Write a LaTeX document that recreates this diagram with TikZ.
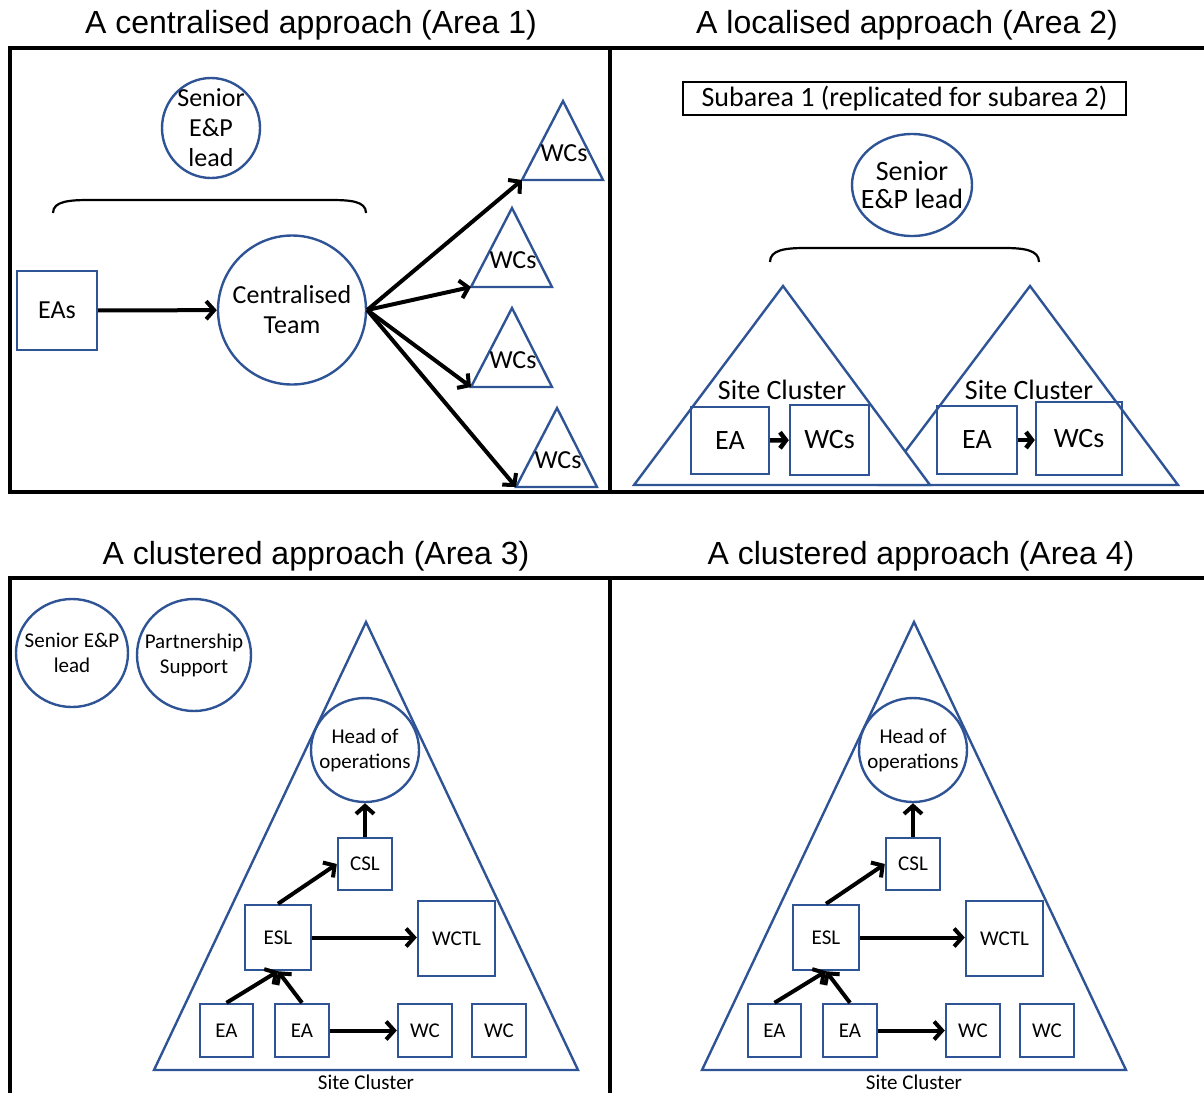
\documentclass[tikz,border=0pt]{standalone}
\usepackage{fontspec}
\setmainfont{Carlito}
\newfontfamily\titlefont{Liberation Sans}
\usetikzlibrary{positioning,shapes.geometric,arrows.meta}
\definecolor{boxblue}{RGB}{47,84,150}

\begin{document}
\begin{tikzpicture}[x=1pt,y=-1pt,
  font=\fontsize{26}{30}\selectfont,
  blueline/.style={draw=boxblue, line width=2.4pt},
  circ/.style={blueline, ellipse, inner sep=0pt},
  ctext/.style={align=center, inner sep=0pt},
  sq/.style={blueline, rectangle, inner sep=0pt},
  arr/.style={line width=4pt, -{Straight Barb[length=8pt,width=18pt]}},
  frame/.style={line width=3.6pt},
  title/.style={font=\titlefont\fontsize{32}{34}\selectfont},
  big/.style={font=\fontsize{28}{28}\selectfont},
  small/.style={font=\fontsize{21}{25}\selectfont}]
\useasboundingbox (0,0) rectangle (1204,1093);

% frames
\draw[frame] (1204,48) -- (10,48) -- (10,492) -- (1204,492);
\draw[frame] (610,48) -- (610,492);
\draw[frame] (10,1093) -- (10,578) -- (1204,578);
\draw[frame] (610,578) -- (610,1093);

% Area 1
\node[title] (t1) at (311,25) {A centralised approach (Area 1)};
\node[circ, minimum width=98pt, minimum height=100pt] (lead1) at (211,128) {};
\node[ctext] (lead1 txt) at (lead1) {Senior\\E\&P\\lead};
\draw[line width=2.2pt] (53,213) .. controls (53,201) and (70,200) .. (90,200) -- (330,200) .. controls (350,200) and (366,201) .. (366,213);
\node[sq, minimum width=80pt, minimum height=79pt] (eas) at (57,310.5) {EAs};
\node[circ, minimum width=148pt, minimum height=149pt] (team) at (292,310) {};
\node[ctext] (team txt) at (team) {Centralised\\Team};
\draw[arr] (eas) -- (team);
\foreach \nm/\ax/\ay in {wa/563/101, wb/512/208, wc/512/308, wd/557/408} {
  \draw[blueline] (\ax,\ay) -- (\ax+40,\ay+79) -- (\ax-41,\ay+79) coordinate (\nm) -- cycle;
  \node (\nm txt) at (\ax+1,\ay+52) {WCs};
  \draw[arr] (team.east) -- (\nm);
}

% Area 2
\node[title] (t2) at (907,25) {A localised approach (Area 2)};
\begin{scope}[big]
\node[draw, line width=2.8pt, minimum width=443pt, minimum height=33pt, inner sep=0pt] (sub) at (904.5,98.5) {Subarea 1 (replicated for subarea 2)};
\node[circ, minimum width=120pt, minimum height=102pt] (lead2) at (912,185) {};
\node[ctext] (lead2 txt) at (lead2) {Senior\\E\&P lead};
\draw[line width=2.2pt] (770,262) .. controls (770,250) and (785,248) .. (805,248) -- (1004,248) .. controls (1024,248) and (1039,250) .. (1039,262);
\draw[blueline, fill=white] (1030,286) -- (1178,485) -- (880,485) -- cycle;
\draw[blueline, fill=white] (783,286) -- (930,485) -- (634,485) -- cycle;
\node (sca) at (782,390) {Site Cluster};
\node (scb) at (1029,390) {Site Cluster};
\node[sq, minimum width=78pt, minimum height=67pt] (eaa) at (730,440.5) {EA};
\node[sq, minimum width=79pt, minimum height=70pt] (wcsa) at (829.5,440) {WCs};
\node[sq, minimum width=80pt, minimum height=68pt] (eab) at (977,440) {EA};
\node[sq, minimum width=86pt, minimum height=73pt] (wcsb) at (1079,438.5) {WCs};
\draw[arr, line width=4.5pt, -{Straight Barb[length=6pt,width=16pt]}] (eaa) -- (wcsa);
\draw[arr, line width=4.5pt, -{Straight Barb[length=6pt,width=16pt]}] (eab.east) -- (eab.east -| wcsb.west);
\end{scope}

% Areas 3 and 4
\node[title] (t3) at (316,556) {A clustered approach (Area 3)};
\node[title] (t4) at (921,556) {A clustered approach (Area 4)};
\node[circ, minimum width=112pt, minimum height=108pt] (lead3) at (72,653) {};
\node[ctext, small] (lead3 txt) at (lead3) {Senior E\&P\\lead};
\node[circ, minimum width=114pt, minimum height=112pt] (ps) at (194,655) {};
\node[ctext, small] (ps txt) at (ps) {Partnership\\Support};
\foreach \p/\dx in {c/0, d/548} {
  \begin{scope}[xshift=\dx pt, small]
  \draw[blueline] (366,622) -- (578,1070) -- (154,1070) -- cycle;
  \node[inner sep=0pt] (sc\p) at (366,1082) {Site Cluster};
  \node[circ, minimum width=108pt, minimum height=104pt] (head\p) at (365,750) {};
  \node[ctext] (head\p txt) at (head\p) {Head of\\operations};
  \node[sq, minimum width=54pt, minimum height=52pt] (csl\p) at (365,864) {CSL};
  \node[sq, minimum width=66pt, minimum height=65pt] (esl\p) at (278,937.5) {ESL};
  \node[sq, minimum width=77pt, minimum height=75pt] (wctl\p) at (456.5,938.5) {WCTL};
  \node[sq, minimum width=53pt, minimum height=53pt] (eaa\p) at (226.5,1030.5) {EA};
  \node[sq, minimum width=54pt, minimum height=53pt] (eab\p) at (302,1030.5) {EA};
  \node[sq, minimum width=54pt, minimum height=53pt] (wca\p) at (425,1030.5) {WC};
  \node[sq, minimum width=54pt, minimum height=53pt] (wcb\p) at (499,1030.5) {WC};
  \draw[arr] (csl\p) -- (head\p);
  \draw[arr] (esl\p.north) -- (csl\p.west);
  \draw[arr] (esl\p.east) -- (esl\p.east -| wctl\p.west);
  \draw[arr] (eaa\p.north) -- (esl\p.south);
  \draw[arr] (eab\p.north) -- (esl\p.south);
  \draw[arr] (eab\p) -- (wca\p);
  \end{scope}
}
\end{tikzpicture}
\end{document}
